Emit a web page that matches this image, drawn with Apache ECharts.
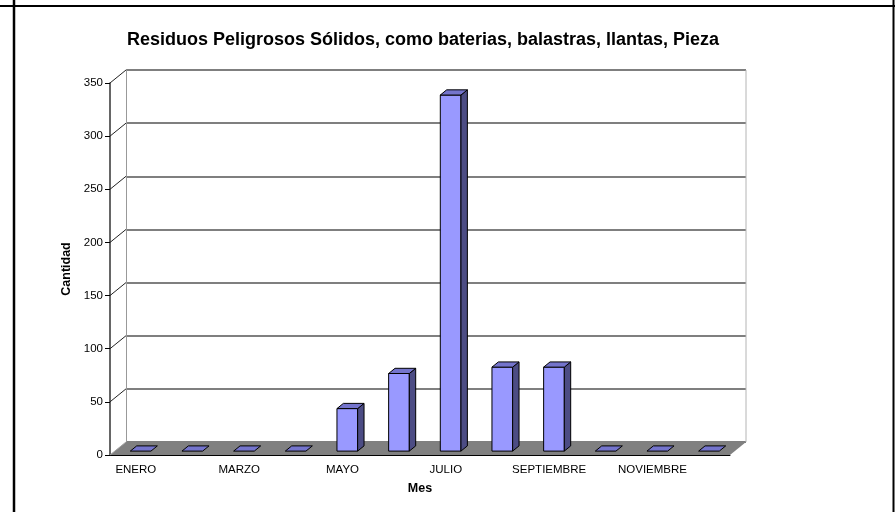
<!DOCTYPE html>
<html>
<head>
<meta charset="utf-8">
<script src="https://cdn.jsdelivr.net/npm/echarts@6/dist/echarts.min.js"></script>
<style>
  html, body { margin: 0; padding: 0; background: #fff; }
  #chart { width: 895px; height: 512px; }
</style>
</head>
<body>
<div id="chart"></div>
<script>
// datos
const meses = ['ENERO', 'FEBRERO', 'MARZO', 'ABRIL', 'MAYO', 'JUNIO', 'JULIO',
    'AGOSTO', 'SEPTIEMBRE', 'OCTUBRE', 'NOVIEMBRE', 'DICIEMBRE'];
const cantidad = [0, 0, 0, 0, 40, 73, 335, 79, 79, 0, 0, 0];
const yTicks = [0, 50, 100, 150, 200, 250, 300, 350];

// desplazamiento de profundidad (pseudo 3D)
const DX = 16, DY = 13;
const FRONT = '#9999ff', SIDE = '#4c4c84', TOP = '#7474cc';
const FONT = 'Liberation Sans, Arial, sans-serif';

var chart = echarts.init(document.getElementById('chart'));

function renderFloor(params, api) {
    let cs = params.coordSys;
    let b = cs.y + cs.height;
    return {
        type: 'group',
        children: [
            {
                type: 'polygon',
                shape: { points: [[cs.x, b], [cs.x + cs.width, b], [cs.x + cs.width + DX, b - DY], [cs.x + DX, b - DY]] },
                style: { fill: '#808080' }
            },
            {
                // borde derecho de la pared del fondo
                type: 'line',
                shape: { x1: cs.x + cs.width + DX, y1: cs.y - DY, x2: cs.x + cs.width + DX, y2: b - DY },
                style: { stroke: '#b4b4b4', lineWidth: 1 }
            }
        ]
    };
}

function renderTickLink(params, api) {
    let cs = params.coordSys;
    let y = api.coord([0, api.value(1)])[1];
    return {
        type: 'line',
        shape: { x1: cs.x, y1: y, x2: cs.x + DX, y2: y - DY },
        style: { stroke: api.value(1) === 0 ? '#a0a0a0' : '#222', lineWidth: 1 }
    };
}

function renderBar(params, api) {
    let idx = api.value(0);
    let v = api.value(1);
    let base = api.coord([idx, 0]);
    let top = api.coord([idx, v]);
    let w = api.size([1, 0])[0] * 0.4;
    let z0 = 0.3, z1 = 0.7;
    let xl = base[0] - w / 2 + DX * z0;
    let yb = base[1] - DY * z0;
    let yt = top[1] - DY * z0;
    let dx = DX * (z1 - z0), dy = DY * (z1 - z0);
    let line = { stroke: '#000', lineWidth: 1, lineJoin: 'round' };
    let topFace = {
        type: 'polygon',
        shape: { points: [[xl, yt], [xl + w, yt], [xl + w + dx, yt - dy], [xl + dx, yt - dy]] },
        style: Object.assign({ fill: TOP }, line)
    };
    if (v === 0) {
        return topFace;
    }
    return {
        type: 'group',
        children: [
            {
                type: 'rect',
                shape: { x: xl, y: yt, width: w, height: yb - yt },
                style: Object.assign({ fill: FRONT }, line)
            },
            {
                type: 'polygon',
                shape: { points: [[xl + w, yb], [xl + w, yt], [xl + w + dx, yt - dy], [xl + w + dx, yb - dy]] },
                style: Object.assign({ fill: SIDE }, line)
            },
            topFace
        ]
    };
}

var option = {
    animation: false,
    textStyle: { fontFamily: FONT },
    title: {
        text: 'Residuos Peligrosos Sólidos, como baterias, balastras, llantas, Pieza',
        left: 418,
        textAlign: 'center',
        top: 26,
        textStyle: { fontSize: 18, fontWeight: 'bold', color: '#000', fontFamily: FONT }
    },
    graphic: [
        { type: 'line', shape: { x1: 0, y1: 6, x2: 895, y2: 6 }, style: { stroke: '#000', lineWidth: 2 } },
        { type: 'line', shape: { x1: 14, y1: 0, x2: 14, y2: 512 }, style: { stroke: '#000', lineWidth: 2.5 } },
        { type: 'line', shape: { x1: 893.5, y1: 0, x2: 893.5, y2: 512 }, style: { stroke: '#000', lineWidth: 2 } }
    ],
    grid: [
        { left: 110, top: 83, width: 620, height: 372 },
        { left: 110 + DX, top: 83 - DY, width: 620, height: 372 }
    ],
    xAxis: [
        {
            type: 'category',
            gridIndex: 0,
            data: meses,
            name: 'Mes',
            nameLocation: 'middle',
            nameGap: 27,
            nameTextStyle: { fontSize: 12.5, fontWeight: 'bold', color: '#000' },
            axisLine: { lineStyle: { color: '#000', width: 1 } },
            axisTick: { interval: 0, length: 5, lineStyle: { color: '#000' } },
            axisLabel: { interval: 1, fontSize: 11.5, color: '#000', margin: 9 },
            splitLine: { show: false }
        },
        {
            type: 'category',
            gridIndex: 1,
            data: meses,
            show: false
        }
    ],
    yAxis: [
        {
            type: 'value',
            gridIndex: 0,
            min: 0,
            max: 350,
            interval: 50,
            name: 'Cantidad',
            nameLocation: 'middle',
            nameGap: 37,
            nameTextStyle: { fontSize: 12.5, fontWeight: 'bold', color: '#000' },
            axisLine: { show: true, lineStyle: { color: '#333', width: 1.5 } },
            axisTick: { show: true, length: 5, lineStyle: { color: '#000' } },
            axisLabel: { fontSize: 11.5, color: '#000', margin: 7 },
            splitLine: { show: false }
        },
        {
            type: 'value',
            gridIndex: 1,
            min: 0,
            max: 350,
            interval: 50,
            axisLine: { show: true, lineStyle: { color: '#999', width: 1 } },
            axisTick: { show: false },
            axisLabel: { show: false },
            splitLine: { show: true, lineStyle: { color: '#555', width: 1.5 } }
        }
    ],
    series: [
        {
            type: 'custom',
            name: 'piso',
            xAxisIndex: 0,
            yAxisIndex: 0,
            data: [[0, 0]],
            renderItem: renderFloor,
            silent: true,
            z: 1
        },
        {
            type: 'custom',
            name: 'enlaces',
            xAxisIndex: 0,
            yAxisIndex: 0,
            data: yTicks.map(v => [0, v]),
            renderItem: renderTickLink,
            silent: true,
            z: 2
        },
        {
            type: 'custom',
            name: 'Cantidad',
            xAxisIndex: 0,
            yAxisIndex: 0,
            data: cantidad.map((v, i) => [i, v]),
            renderItem: renderBar,
            z: 3
        }
    ]
};

chart.setOption(option);
</script>
</body>
</html>
